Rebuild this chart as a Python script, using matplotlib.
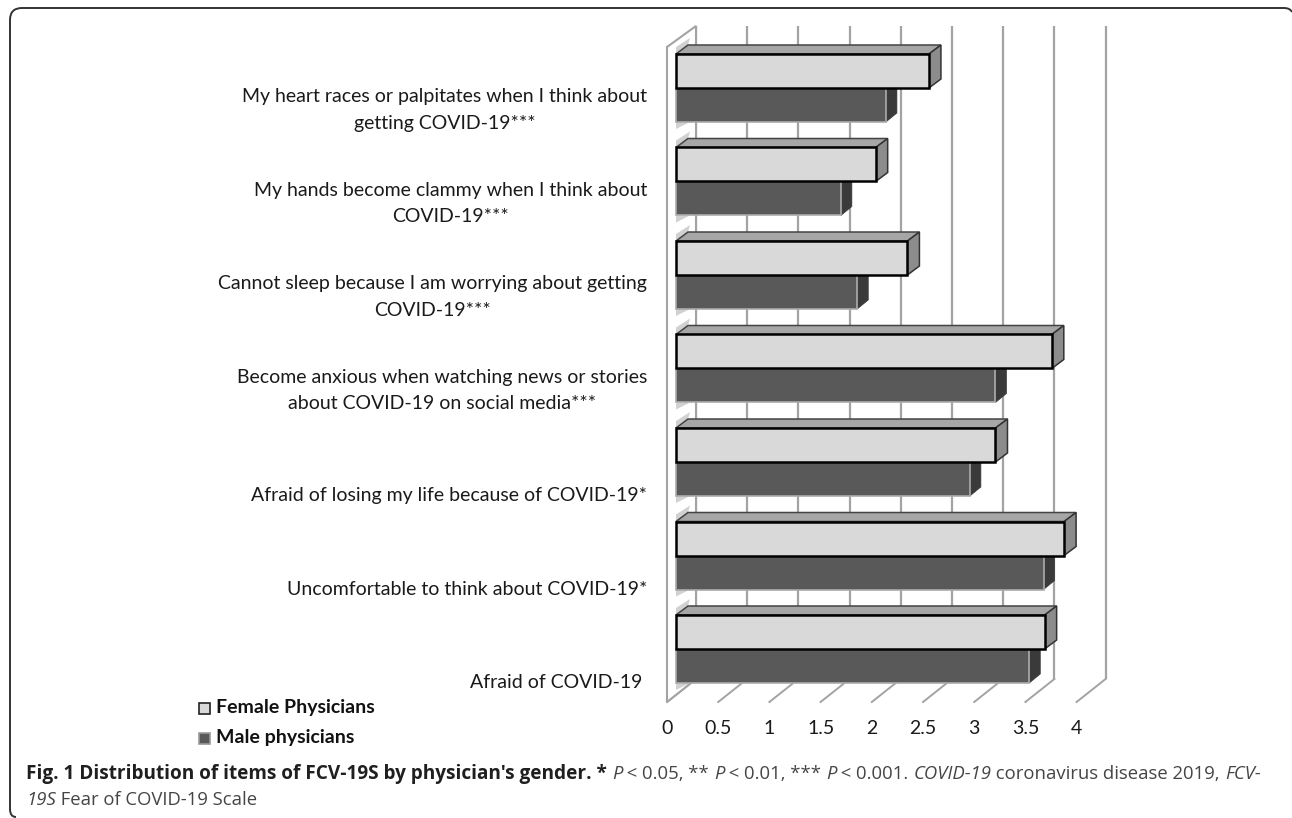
import matplotlib
matplotlib.use('Agg')
import matplotlib.pyplot as plt
from matplotlib.patches import Polygon, PathPatch, Rectangle
from matplotlib.path import Path
from matplotlib.transforms import IdentityTransform

plt.rcParams['font.family'] = ['Lato', 'DejaVu Sans']

labels = [
    "My heart races or palpitates when I think about\ngetting COVID-19***",
    "My hands become clammy when I think about\nCOVID-19***",
    "Cannot sleep because I am worrying about getting\nCOVID-19***",
    "Become anxious when watching news or stories\nabout COVID-19 on social media***",
    "Afraid of losing my life because of COVID-19*",
    "Uncomfortable to think about COVID-19*",
    "Afraid of COVID-19 ",
]
female = [2.47, 1.95, 2.26, 3.67, 3.12, 3.79, 3.60]
male = [2.05, 1.61, 1.77, 3.12, 2.87, 3.59, 3.45]
ticks = [0, 0.5, 1, 1.5, 2, 2.5, 3, 3.5, 4]
tick_labels = ['0', '0.5', '1', '1.5', '2', '2.5', '3', '3.5', '4']

W, H = 1292, 818
fig = plt.figure(figsize=(W / 100, H / 100), dpi=100)
ax = fig.add_axes([0, 0, 1, 1])

# one value = 102.4 px, one category = 93.5 px
sx, sy = 102.4, 93.5
ax.set_xlim(-676 / sx, (W - 676) / sx)
ax.set_ylim((H - 88) / sy, -88 / sy)
ax.axis('off')

# depth of the fake 3D box, in data units
back_dx = 20 / sx
grid_top, floor_back, floor_front = -62 / sy, 591 / sy, 614 / sy
wall_top = -41 / sy
box_dx = 29 / sx
grid_col = '#a3a3a3'

# gridlines and floor
for t in ticks:
    x_back = t + back_dx
    ax.plot([x_back, x_back], [grid_top, floor_back], color=grid_col, lw=1.6,
            zorder=1, solid_capstyle='butt')
    ax.plot([x_back, x_back - box_dx], [floor_back, floor_front], color=grid_col, lw=1.4, zorder=1)

# left wall
x0 = back_dx - box_dx
ax.add_patch(Polygon([(x0, wall_top), (back_dx, grid_top), (back_dx, floor_back), (x0, floor_front)],
                     closed=True, fc='white', ec=grid_col, lw=1.5, zorder=1.5))

bar_h = 34 / sy
dx_f, dy_f = 12 / sx, -9 / sy
dx_m, dy_m = 11 / sx, -9 / sy
shadow = 7 / sy

for i in range(len(labels)):
    y0 = i - bar_h

    # soft shadow the bars throw on the wall
    ax.add_patch(Polygon([(0, y0), (dx_f, y0 + dy_f), (dx_f + 2 / sx, y0 + dy_f - shadow), (0, y0 - shadow)],
                         closed=True, fc='#9a9a9a', ec='none', alpha=0.45, zorder=2))
    ax.add_patch(Polygon([(0, i + bar_h), (dx_m + 3 / sx, i + bar_h), (0, i + bar_h + shadow)],
                         closed=True, fc='#9a9a9a', ec='none', alpha=0.45, zorder=2))

    # male sits under female
    v = male[i]
    ax.add_patch(Polygon([(v, i), (v + dx_m, i + dy_m), (v + dx_m, i + bar_h + dy_m), (v, i + bar_h)],
                         closed=True, fc='#3a3a3a', ec='#3a3a3a', lw=0.5, zorder=3))
    ax.barh(i + bar_h / 2, v, height=bar_h, color='#595959', edgecolor='#ababab', lw=1.2, zorder=4)

    v = female[i]
    ax.add_patch(Polygon([(0, y0), (dx_f, y0 + dy_f), (v + dx_f, y0 + dy_f), (v, y0)],
                         closed=True, fc='#a6a6a6', ec='#444444', lw=1.1, zorder=5))
    ax.add_patch(Polygon([(v, y0), (v + dx_f, y0 + dy_f), (v + dx_f, y0 + bar_h + dy_f), (v, y0 + bar_h)],
                         closed=True, fc='#8c8c8c', ec='#333333', lw=1.1, zorder=5))
    ax.barh(y0 + bar_h / 2, v, height=bar_h, color='#d9d9d9', edgecolor='black', lw=1.8, zorder=6)

    offset = 22 if '\n' in labels[i] else 34
    ax.text(-29 / sx, i + offset / sy, labels[i], ha='right', va='center', multialignment='center',
            fontsize=14, color='#1a1a1a', linespacing=1.65, zorder=7)

for t, s in zip(ticks, tick_labels):
    ax.text(t + x0, 641 / sy, s, ha='center', va='center', fontsize=14, color='#1a1a1a')

# legend
leg = [('Female Physicians', '#d9d9d9', '#222222', 708), ('Male physicians', '#595959', '#9a9a9a', 738)]
for name, fc, ec, ypx in leg:
    fig.add_artist(Rectangle((199 / W, 1 - (ypx + 6) / H), 11 / W, 11 / H, transform=fig.transFigure,
                             fc=fc, ec=ec, lw=1.2))
    fig.text(216 / W, 1 - ypx / H, name, fontweight='bold', fontsize=14, va='center', color='#111111')


def runs(x_px, y_px, parts):
    # lays out text pieces with different styles side by side
    r = fig.canvas.get_renderer()
    x = x_px
    for s, style in parts:
        t = fig.text(x / W, 1 - y_px / H, s.replace(' ', '\u00a0'), va='baseline',
                     family=['Open Sans', 'DejaVu Sans'],
                     fontsize=13.7 if style == 'b' else 13.3,
                     color='#1f1f1f' if style == 'b' else '#454545',
                     fontweight='bold' if style == 'b' else 'normal',
                     fontstyle='italic' if style == 'i' else 'normal')
        x = t.get_window_extent(r).x1


runs(26, 779, [("Fig. 1 Distribution of items of FCV-19S by physician's gender. * ", 'b'), ("P", 'i'),
               (" < 0.05, ** ", 'r'), ("P", 'i'), (" < 0.01, *** ", 'r'), ("P", 'i'), (" < 0.001. ", 'r'),
               ("COVID-19", 'i'), (" coronavirus disease 2019, ", 'r'), ("FCV-", 'i')])
runs(26, 805, [("19S", 'i'), (" Fear of COVID-19 Scale", 'r')])

# outer frame, open on the right and bottom where the image cuts it off
frame = Path([(16, 1), (10, 1), (10, 9), (10, H - 20), (10, H - 8), (22, H - 8),
              (1284, H - 8), (1290, H - 8), (1292, H - 12)],
             [Path.MOVETO, Path.CURVE3, Path.CURVE3, Path.LINETO, Path.CURVE3, Path.CURVE3,
              Path.LINETO, Path.CURVE3, Path.CURVE3])
fig.add_artist(PathPatch(frame, transform=IdentityTransform(), fc='none', ec='#333333', lw=1.4))

fig.savefig('out.png', dpi=100)
